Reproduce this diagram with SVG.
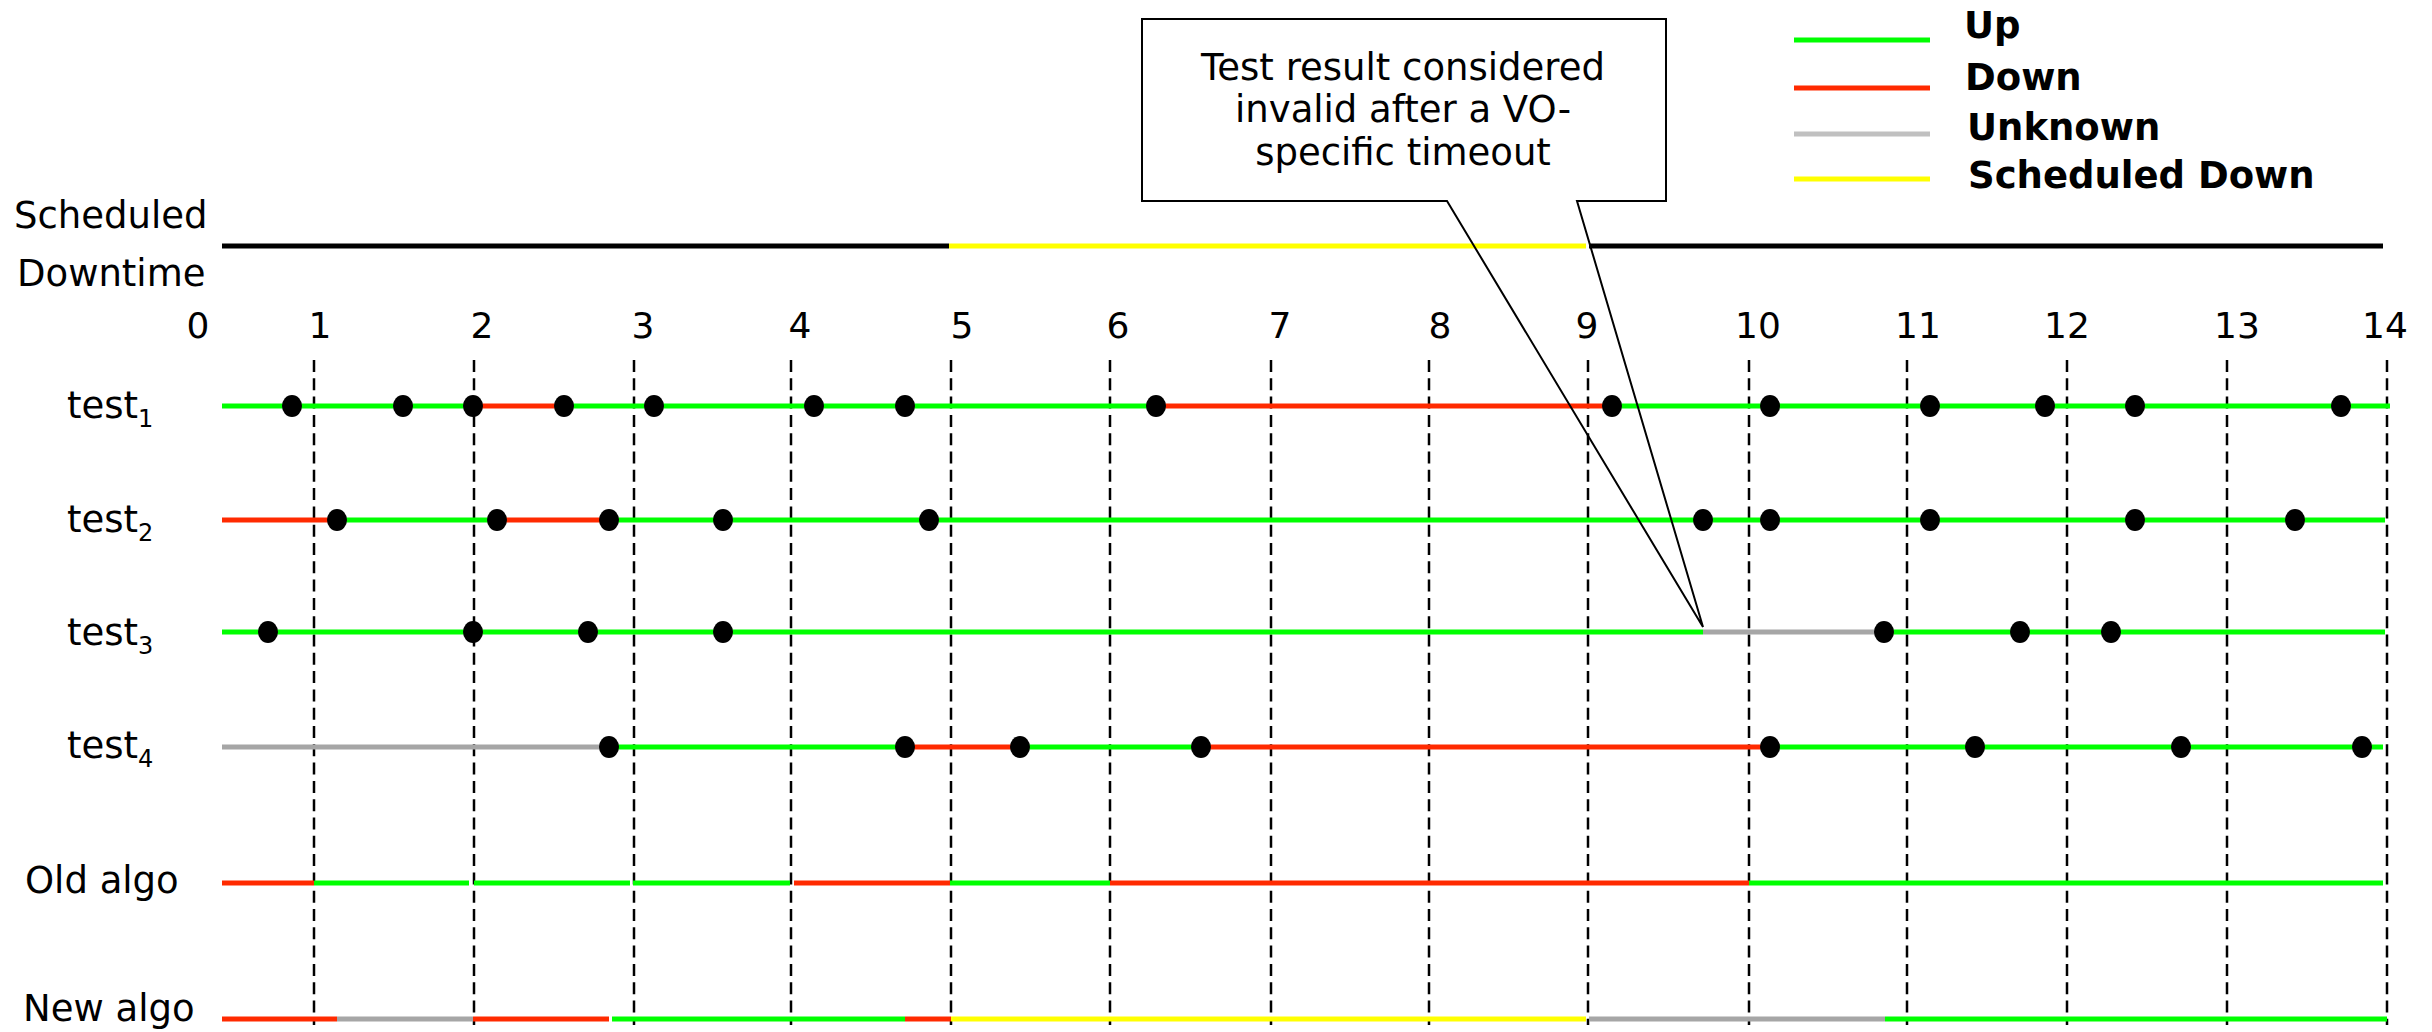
<svg xmlns="http://www.w3.org/2000/svg" width="2432" height="1032" viewBox="0 0 2432 1032">
  <style>
    text { font-family: "DejaVu Sans", Verdana, sans-serif; fill: #000; }
    .lbl { font-size: 37px; }
    .num { font-size: 36px; text-anchor: middle; }
    .sub { font-size: 24px; }
    .leg { font-size: 37px; font-weight: bold; }
    .note { font-size: 37px; text-anchor: middle; }
    .seg { stroke-width: 5; fill: none; stroke-linecap: butt; }
    .up { stroke: #00ff00; }
    .down { stroke: #ff2a00; }
    .unk { stroke: #a6a6a6; }
    .legunk { stroke: #c0c0c0; }
    .sched { stroke: #ffff00; }
    .blk { stroke: #000; }
    .grid line { stroke: #000; stroke-width: 2.5; stroke-dasharray: 12 6.3; }
    .dot { fill: #000; }
  </style>

  <!-- vertical hour grid -->
  <g id="grid" class="grid">
    <line x1="314" y1="360" x2="314" y2="1025"/>
    <line x1="474" y1="360" x2="474" y2="1025"/>
    <line x1="634" y1="360" x2="634" y2="1025"/>
    <line x1="791" y1="360" x2="791" y2="1025"/>
    <line x1="951" y1="360" x2="951" y2="1025"/>
    <line x1="1110" y1="360" x2="1110" y2="1025"/>
    <line x1="1271" y1="360" x2="1271" y2="1025"/>
    <line x1="1429" y1="360" x2="1429" y2="1025"/>
    <line x1="1588" y1="360" x2="1588" y2="1025"/>
    <line x1="1749" y1="360" x2="1749" y2="1025"/>
    <line x1="1907" y1="360" x2="1907" y2="1025"/>
    <line x1="2067" y1="360" x2="2067" y2="1025"/>
    <line x1="2227" y1="360" x2="2227" y2="1025"/>
    <line x1="2387" y1="360" x2="2387" y2="1025"/>
  </g>

  <!-- hour numbers -->
  <g id="axis">
    <text class="num" x="198" y="338">0</text>
    <text class="num" x="320" y="338">1</text>
    <text class="num" x="482" y="338">2</text>
    <text class="num" x="643" y="338">3</text>
    <text class="num" x="800" y="338">4</text>
    <text class="num" x="962" y="338">5</text>
    <text class="num" x="1118" y="338">6</text>
    <text class="num" x="1280" y="338">7</text>
    <text class="num" x="1440" y="338">8</text>
    <text class="num" x="1587" y="338">9</text>
    <text class="num" x="1758" y="338">10</text>
    <text class="num" x="1918" y="338">11</text>
    <text class="num" x="2067" y="338">12</text>
    <text class="num" x="2237" y="338">13</text>
    <text class="num" x="2385" y="338">14</text>
  </g>

  <!-- scheduled downtime row -->
  <g id="scheduled">
    <text class="lbl" x="14" y="228">Scheduled</text>
    <text class="lbl" x="17" y="286">Downtime</text>
    <line class="seg blk" x1="222" y1="246" x2="949" y2="246"/>
    <line class="seg sched" x1="949" y1="246" x2="1586" y2="246"/>
    <line class="seg blk" x1="1589" y1="246" x2="2383" y2="246"/>
  </g>

  <!-- test 1 -->
  <g id="test1">
    <text class="lbl" x="67" y="418">test<tspan class="sub" dy="9">1</tspan></text>
    <line class="seg up" x1="222" y1="406" x2="473" y2="406"/>
    <line class="seg down" x1="473" y1="406" x2="564" y2="406"/>
    <line class="seg up" x1="564" y1="406" x2="1156" y2="406"/>
    <line class="seg down" x1="1156" y1="406" x2="1612" y2="406"/>
    <line class="seg up" x1="1612" y1="406" x2="2390" y2="406"/>
    <g class="dot">
      <ellipse cx="292" cy="406" rx="10" ry="11"/>
      <ellipse cx="403" cy="406" rx="10" ry="11"/>
      <ellipse cx="473" cy="406" rx="10" ry="11"/>
      <ellipse cx="564" cy="406" rx="10" ry="11"/>
      <ellipse cx="654" cy="406" rx="10" ry="11"/>
      <ellipse cx="814" cy="406" rx="10" ry="11"/>
      <ellipse cx="905" cy="406" rx="10" ry="11"/>
      <ellipse cx="1156" cy="406" rx="10" ry="11"/>
      <ellipse cx="1612" cy="406" rx="10" ry="11"/>
      <ellipse cx="1770" cy="406" rx="10" ry="11"/>
      <ellipse cx="1930" cy="406" rx="10" ry="11"/>
      <ellipse cx="2045" cy="406" rx="10" ry="11"/>
      <ellipse cx="2135" cy="406" rx="10" ry="11"/>
      <ellipse cx="2341" cy="406" rx="10" ry="11"/>
    </g>
  </g>

  <!-- test 2 -->
  <g id="test2">
    <text class="lbl" x="67" y="532">test<tspan class="sub" dy="9">2</tspan></text>
    <line class="seg down" x1="222" y1="520" x2="337" y2="520"/>
    <line class="seg up" x1="337" y1="520" x2="497" y2="520"/>
    <line class="seg down" x1="497" y1="520" x2="609" y2="520"/>
    <line class="seg up" x1="609" y1="520" x2="2385" y2="520"/>
    <g class="dot">
      <ellipse cx="337" cy="520" rx="10" ry="11"/>
      <ellipse cx="497" cy="520" rx="10" ry="11"/>
      <ellipse cx="609" cy="520" rx="10" ry="11"/>
      <ellipse cx="723" cy="520" rx="10" ry="11"/>
      <ellipse cx="929" cy="520" rx="10" ry="11"/>
      <ellipse cx="1703" cy="520" rx="10" ry="11"/>
      <ellipse cx="1770" cy="520" rx="10" ry="11"/>
      <ellipse cx="1930" cy="520" rx="10" ry="11"/>
      <ellipse cx="2135" cy="520" rx="10" ry="11"/>
      <ellipse cx="2295" cy="520" rx="10" ry="11"/>
    </g>
  </g>

  <!-- test 3 -->
  <g id="test3">
    <text class="lbl" x="67" y="645">test<tspan class="sub" dy="9">3</tspan></text>
    <line class="seg up" x1="222" y1="632" x2="1703" y2="632"/>
    <line class="seg unk" x1="1703" y1="632" x2="1884" y2="632"/>
    <line class="seg up" x1="1884" y1="632" x2="2385" y2="632"/>
    <g class="dot">
      <ellipse cx="268" cy="632" rx="10" ry="11"/>
      <ellipse cx="473" cy="632" rx="10" ry="11"/>
      <ellipse cx="588" cy="632" rx="10" ry="11"/>
      <ellipse cx="723" cy="632" rx="10" ry="11"/>
      <ellipse cx="1884" cy="632" rx="10" ry="11"/>
      <ellipse cx="2020" cy="632" rx="10" ry="11"/>
      <ellipse cx="2111" cy="632" rx="10" ry="11"/>
    </g>
  </g>

  <!-- test 4 -->
  <g id="test4">
    <text class="lbl" x="67" y="758">test<tspan class="sub" dy="9">4</tspan></text>
    <line class="seg unk" x1="222" y1="747" x2="609" y2="747"/>
    <line class="seg up" x1="609" y1="747" x2="905" y2="747"/>
    <line class="seg down" x1="905" y1="747" x2="1020" y2="747"/>
    <line class="seg up" x1="1020" y1="747" x2="1201" y2="747"/>
    <line class="seg down" x1="1201" y1="747" x2="1770" y2="747"/>
    <line class="seg up" x1="1770" y1="747" x2="2383" y2="747"/>
    <g class="dot">
      <ellipse cx="609" cy="747" rx="10" ry="11"/>
      <ellipse cx="905" cy="747" rx="10" ry="11"/>
      <ellipse cx="1020" cy="747" rx="10" ry="11"/>
      <ellipse cx="1201" cy="747" rx="10" ry="11"/>
      <ellipse cx="1770" cy="747" rx="10" ry="11"/>
      <ellipse cx="1975" cy="747" rx="10" ry="11"/>
      <ellipse cx="2181" cy="747" rx="10" ry="11"/>
      <ellipse cx="2362" cy="747" rx="10" ry="11"/>
    </g>
  </g>

  <!-- old algorithm result -->
  <g id="old-algo">
    <text class="lbl" x="25" y="893">Old algo</text>
    <line class="seg down" x1="222" y1="883" x2="314" y2="883"/>
    <line class="seg up" x1="314" y1="883" x2="469" y2="883"/>
    <line class="seg up" x1="474" y1="883" x2="630" y2="883"/>
    <line class="seg up" x1="633" y1="883" x2="790" y2="883"/>
    <line class="seg down" x1="794" y1="883" x2="950" y2="883"/>
    <line class="seg up" x1="950" y1="883" x2="1110" y2="883"/>
    <line class="seg down" x1="1110" y1="883" x2="1749" y2="883"/>
    <line class="seg up" x1="1749" y1="883" x2="2383" y2="883"/>
  </g>

  <!-- new algorithm result -->
  <g id="new-algo">
    <text class="lbl" x="23" y="1021">New algo</text>
    <line class="seg down" x1="222" y1="1019" x2="337" y2="1019"/>
    <line class="seg unk" x1="337" y1="1019" x2="473" y2="1019"/>
    <line class="seg down" x1="473" y1="1019" x2="609" y2="1019"/>
    <line class="seg up" x1="612" y1="1019" x2="905" y2="1019"/>
    <line class="seg down" x1="905" y1="1019" x2="951" y2="1019"/>
    <line class="seg sched" x1="951" y1="1019" x2="1586" y2="1019"/>
    <line class="seg unk" x1="1589" y1="1019" x2="1885" y2="1019"/>
    <line class="seg up" x1="1885" y1="1019" x2="2387" y2="1019"/>
  </g>

  <!-- callout box with pointer -->
  <g id="callout">
    <path d="M1447,201 L1142,201 L1142,19 L1666,19 L1666,201 L1577,201 L1703,627 Z" fill="none" stroke="#000" stroke-width="2" stroke-linejoin="miter"/>
    <text class="note" x="1403" y="80">Test result considered</text>
    <text class="note" x="1403" y="122">invalid after a VO-</text>
    <text class="note" x="1403" y="165">specific timeout</text>
  </g>

  <!-- legend -->
  <g id="legend">
    <line class="seg up" x1="1794" y1="40" x2="1930" y2="40"/>
    <text class="leg" x="1964" y="38">Up</text>
    <line class="seg down" x1="1794" y1="88" x2="1930" y2="88"/>
    <text class="leg" x="1965" y="90">Down</text>
    <line class="seg legunk" x1="1794" y1="134" x2="1930" y2="134"/>
    <text class="leg" x="1967" y="140">Unknown</text>
    <line class="seg sched" x1="1794" y1="179" x2="1930" y2="179"/>
    <text class="leg" x="1968" y="188">Scheduled Down</text>
  </g>
</svg>
